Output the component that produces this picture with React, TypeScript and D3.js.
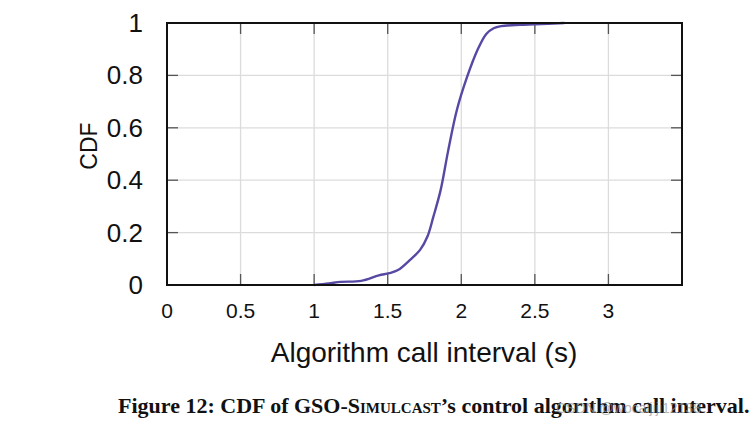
import React from "react";
import * as d3 from "d3";

const xTicks = [0, 0.5, 1, 1.5, 2, 2.5, 3];
const yTicks = [0, 0.2, 0.4, 0.6, 0.8, 1];
const intervalS = [1.0, 1.1, 1.18, 1.32, 1.44, 1.51, 1.57, 1.65, 1.72, 1.77, 1.81, 1.86, 1.91, 1.97, 2.04, 2.11, 2.17, 2.22, 2.27, 2.4, 2.5, 2.7];
const cdfValues = [0.0, 0.006, 0.012, 0.016, 0.037, 0.045, 0.057, 0.095, 0.134, 0.185, 0.26, 0.363, 0.51, 0.668, 0.795, 0.897, 0.958, 0.98, 0.988, 0.993, 0.995, 1.0];

export default function App() {
  const W = 751, H = 427;
  const left = 167, right = 682, top = 23, bottom = 285;
  const x = d3.scaleLinear().domain([0, 3.5]).range([left, right]);
  const y = d3.scaleLinear().domain([0, 1]).range([bottom, top]);
  const pts: [number, number][] = intervalS.map((v, i) => [v, cdfValues[i]]);
  const line = d3.line<[number, number]>().x(d => x(d[0])).y(d => y(d[1])).curve(d3.curveCatmullRom.alpha(0.5));
  const font = "'Liberation Sans', Arial, sans-serif";
  const tk = 11;
  return (
    <svg width={W} height={H} style={{ position: "absolute", left: 0, top: 0, background: "#fff" }}>
      {xTicks.filter(t => t > 0).map(t => (
        <line key={"gx" + t} x1={x(t)} x2={x(t)} y1={top} y2={bottom} stroke="#dcdcdc" strokeWidth={1.3} />
      ))}
      {yTicks.filter(t => t > 0 && t < 1).map(t => (
        <line key={"gy" + t} x1={left} x2={right} y1={y(t)} y2={y(t)} stroke="#dcdcdc" strokeWidth={1.3} />
      ))}
      {xTicks.filter(t => t > 0).map(t => (
        <g key={"tx" + t}>
          <line x1={x(t)} x2={x(t)} y1={bottom} y2={bottom - tk} stroke="#555" strokeWidth={1.3} />
          <line x1={x(t)} x2={x(t)} y1={top} y2={top + tk} stroke="#555" strokeWidth={1.3} />
        </g>
      ))}
      {yTicks.filter(t => t > 0 && t < 1).map(t => (
        <g key={"ty" + t}>
          <line x1={left} x2={left + tk} y1={y(t)} y2={y(t)} stroke="#555" strokeWidth={1.3} />
          <line x1={right} x2={right - tk} y1={y(t)} y2={y(t)} stroke="#555" strokeWidth={1.3} />
        </g>
      ))}
      <path d={line(pts) || ""} fill="none" stroke="#5549a3" strokeWidth={2.4} strokeLinejoin="round" />
      <rect x={left} y={top} width={right - left} height={bottom - top} fill="none" stroke="#111" strokeWidth={2} />
      {xTicks.map(t => (
        <text key={"lx" + t} x={x(t)} y={318} textAnchor="middle" fontFamily={font} fontSize={21} fill="#111">{String(t)}</text>
      ))}
      {yTicks.map(t => (
        <text key={"ly" + t} x={143} y={y(t) + 9} textAnchor="end" fontFamily={font} fontSize={26} fill="#111">{String(t)}</text>
      ))}
      <text x={424} y={362} textAnchor="middle" fontFamily={font} fontSize={28} fill="#111">Algorithm call interval (s)</text>
      <text transform={`translate(97,146) rotate(-90)`} textAnchor="middle" fontFamily={font} fontSize={23} fill="#111">CDF</text>
      <text x={118} y={413} fontFamily="'Liberation Serif', 'DejaVu Serif', serif" fontWeight="bold" fontSize={22} fill="#111">
        Figure 12: CDF of GSO-<tspan style={{ fontVariant: "small-caps" }}>Simulcast</tspan>’s control algorithm call interval.
      </text>
      <text x={556} y={413} fontFamily={font} fontSize={14} fill="#999" opacity={0.7}>CSDN @wocaijiji12138</text>
    </svg>
  );
}
